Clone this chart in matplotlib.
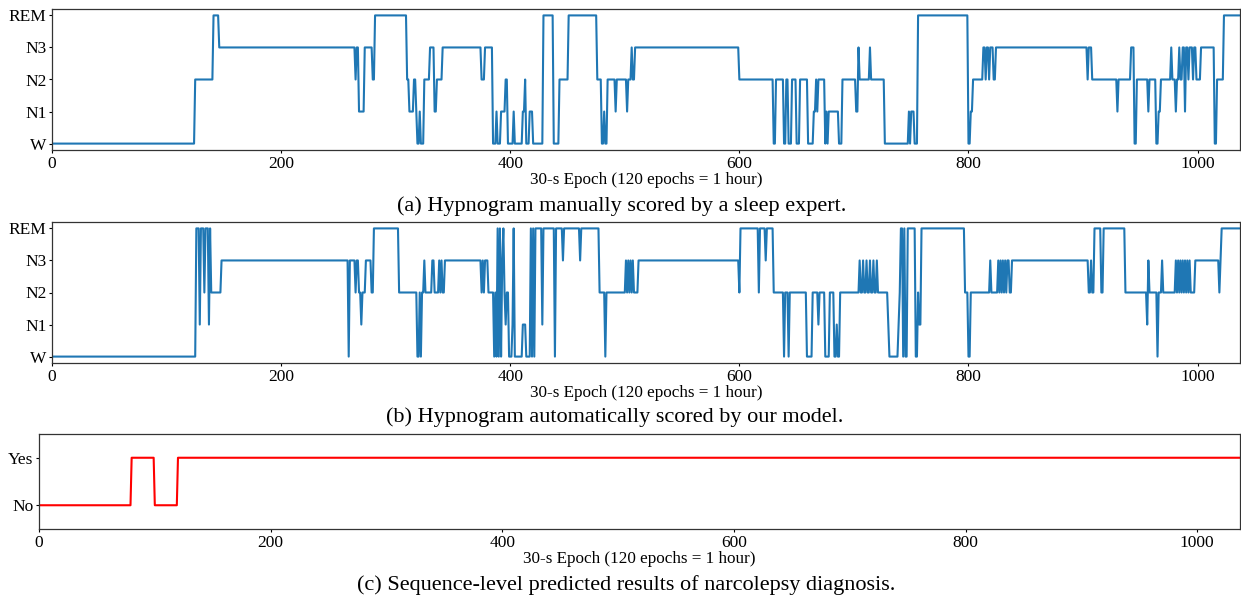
import numpy as np
import matplotlib
matplotlib.use("Agg")
import matplotlib.pyplot as plt

plt.rcParams['font.family'] = ['Liberation Serif', 'DejaVu Serif']

stage_labels = ['W', 'N1', 'N2', 'N3', 'REM']
n_epochs = 1038
xticks = [0, 200, 400, 600, 800, 1000]
xlabel = '30-s Epoch (120 epochs = 1 hour)'

# Panel (a): manual scoring, runs as (start epoch, stage index)
runs_a = [(0, 0), (125, 2), (141, 4), (146, 3), (265, 2), (266, 3), (268, 1), (273, 3), (280, 2),
          (282, 4), (310, 2), (312, 1), (316, 2), (318, 1), (319, 0), (321, 1), (322, 0), (325, 2),
          (330, 3), (334, 1), (336, 2), (341, 3), (375, 2), (378, 3), (385, 0), (388, 1), (389, 0),
          (392, 1), (396, 2), (398, 0), (403, 1), (404, 0), (411, 1), (413, 2), (414, 0), (417, 1),
          (420, 0), (429, 4), (438, 0), (443, 2), (451, 4), (476, 2), (480, 0), (482, 1), (483, 0),
          (485, 2), (492, 1), (493, 2), (502, 1), (503, 2), (506, 3), (507, 2), (509, 3), (600, 2),
          (630, 0), (632, 2), (639, 0), (641, 2), (643, 0), (646, 2), (650, 0), (653, 2), (660, 0),
          (665, 1), (667, 2), (668, 1), (669, 2), (675, 0), (676, 1), (677, 0), (678, 1), (687, 0),
          (690, 2), (702, 1), (704, 3), (705, 2), (714, 3), (715, 2), (727, 0), (748, 1), (749, 0),
          (750, 1), (753, 0), (756, 4), (800, 0), (802, 1), (804, 2), (813, 3), (815, 2), (816, 3),
          (818, 2), (819, 3), (822, 2), (824, 3), (904, 2), (905, 3), (908, 2), (930, 1), (931, 2),
          (942, 3), (945, 0), (947, 2), (957, 1), (958, 2), (964, 0), (966, 1), (968, 2), (977, 3),
          (978, 2), (981, 1), (982, 2), (984, 3), (985, 2), (987, 3), (989, 1), (990, 3), (992, 2),
          (993, 3), (996, 2), (997, 3), (999, 2), (1003, 3), (1015, 0), (1017, 2), (1023, 4)]

# Panel (b): model scoring
runs_b = [(0, 0), (126, 4), (129, 1), (130, 4), (133, 2), (134, 4), (137, 1), (138, 4), (139, 2),
          (148, 3), (259, 0), (260, 3), (265, 2), (266, 3), (268, 2), (270, 1), (271, 2), (274, 3),
          (279, 2), (281, 4), (303, 2), (319, 0), (321, 2), (322, 0), (323, 2), (325, 3), (326, 2),
          (332, 3), (334, 2), (338, 3), (339, 2), (340, 3), (341, 2), (343, 3), (375, 2), (376, 3),
          (377, 2), (378, 3), (381, 2), (386, 0), (387, 2), (388, 0), (389, 4), (390, 0), (391, 4),
          (392, 0), (393, 3), (394, 4), (395, 2), (396, 1), (397, 2), (399, 0), (402, 1), (403, 4),
          (404, 0), (411, 1), (414, 0), (418, 4), (419, 0), (420, 4), (421, 0), (422, 4), (428, 1),
          (429, 4), (439, 0), (440, 4), (446, 3), (447, 4), (461, 3), (462, 4), (478, 2), (483, 0),
          (484, 2), (501, 3), (502, 2), (503, 3), (504, 2), (505, 3), (506, 2), (507, 3), (508, 2),
          (512, 3), (600, 2), (601, 4), (617, 2), (618, 4), (623, 3), (624, 4), (630, 2), (639, 0),
          (640, 2), (643, 0), (644, 2), (659, 0), (664, 2), (669, 1), (670, 2), (675, 0), (679, 2),
          (683, 0), (685, 1), (686, 0), (688, 2), (705, 3), (706, 2), (708, 3), (709, 2), (711, 3),
          (712, 2), (714, 3), (715, 2), (717, 3), (718, 2), (720, 3), (721, 2), (730, 1), (731, 0),
          (739, 1), (740, 2), (741, 4), (743, 0), (744, 4), (745, 0), (747, 4), (754, 0), (756, 2),
          (757, 1), (759, 4), (797, 2), (800, 0), (802, 2), (819, 3), (820, 2), (826, 3), (827, 2),
          (828, 3), (829, 2), (830, 3), (831, 2), (832, 3), (833, 2), (834, 3), (836, 2), (838, 3),
          (905, 2), (907, 3), (908, 2), (910, 4), (916, 2), (918, 4), (937, 2), (956, 1), (957, 3),
          (958, 2), (965, 0), (966, 2), (969, 3), (970, 2), (981, 3), (982, 2), (983, 3), (984, 2),
          (985, 3), (986, 2), (987, 3), (988, 2), (989, 3), (990, 2), (991, 3), (992, 2), (993, 3),
          (994, 2), (998, 3), (1019, 2), (1020, 3), (1021, 4)]

# Panel (c): sequence-level diagnosis (0 = No, 1 = Yes)
runs_c = [(0, 0), (80, 1), (100, 0), (120, 1)]
diag_labels = ['No', 'Yes']

captions = ['(a) Hypnogram manually scored by a sleep expert.',
            '(b) Hypnogram automatically scored by our model.',
            '(c) Sequence-level predicted results of narcolepsy diagnosis.']


def expand(runs, n):
    starts = [r[0] for r in runs] + [n]
    vals = [r[1] for r in runs]
    return np.repeat(vals, np.diff(starts))


W, H = 1241, 599
fig = plt.figure(figsize=(W / 100, H / 100), dpi=100)


def add_ax(left, right, top, bottom):
    return fig.add_axes([left / W, 1 - bottom / H, (right - left) / W, (bottom - top) / H])


ax_a = add_ax(52, 1240, 9, 150)
ax_b = add_ax(52, 1240, 222, 363)
ax_c = add_ax(39, 1240, 434, 529)

x = np.arange(n_epochs)
tick_fs = 12.5
label_fs = 12.3
cap_fs = 16


def style(ax):
    ax.set_xticks(xticks)
    ax.tick_params(labelsize=tick_fs, length=2.5, pad=1.5, width=0.8)
    ax.set_xlabel(xlabel, fontsize=label_fs, labelpad=0)
    for s in ax.spines.values():
        s.set_linewidth(0.9)
        s.set_color('#333333')


for ax, runs in [(ax_a, runs_a), (ax_b, runs_b)]:
    y = expand(runs, n_epochs)
    ax.plot(x, y, color='#1f77b4', linewidth=1.5)
    ax.set_xlim(0, n_epochs - 1)
    ax.set_ylim(-0.2, 4.2)
    ax.set_yticks(range(5))
    ax.set_yticklabels(stage_labels)
    style(ax)

yc = expand(runs_c, n_epochs)
ax_c.plot(x, yc, color='red', linewidth=1.5)
ax_c.set_xlim(0, n_epochs - 1)
ax_c.set_ylim(-0.5, 1.5)
ax_c.set_yticks([0, 1])
ax_c.set_yticklabels(diag_labels)
style(ax_c)

for cap, (cx, cy) in zip(captions, [(622, 206), (615, 417), (626, 585)]):
    fig.text(cx / W, 1 - cy / H, cap, ha='center', va='center', fontsize=cap_fs)

fig.savefig('out.png', dpi=100)
